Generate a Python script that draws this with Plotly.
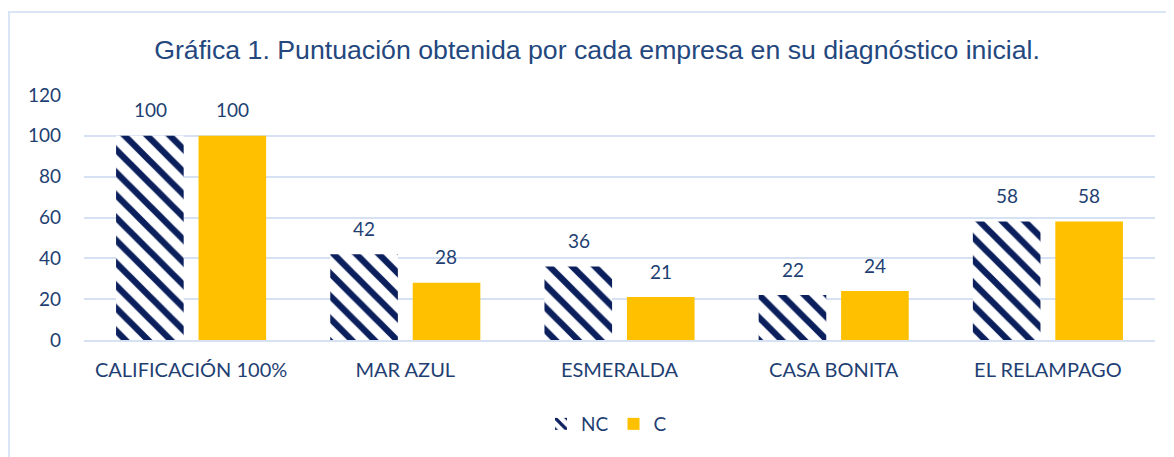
import plotly.graph_objects as go

categories = ["CALIFICACIÓN 100%", "MAR AZUL", "ESMERALDA", "CASA BONITA", "EL RELAMPAGO"]
nc_values = [100, 42, 36, 22, 58]
c_values = [100, 28, 21, 24, 58]
y_ticks = [0, 20, 40, 60, 80, 100, 120]

text_color = "#1F3F73"
title_color = "#24487E"
grid_color = "#D6E2F3"
font_family = "Lato"

fig = go.Figure()
fig.add_trace(go.Bar(
    x=categories, y=nc_values, name="NC",
    marker=dict(color="white",
                pattern=dict(shape="\\", fgcolor="#0B1F5C", bgcolor="white",
                             size=16, solidity=0.4, fillmode="replace", fgopacity=1),
                line=dict(width=0)),
))
fig.add_trace(go.Bar(
    x=categories, y=c_values, name="C",
    marker=dict(color="#FFC000", line=dict(width=0)),
))

annotations = []
for cat, v in zip(categories, nc_values):
    annotations.append(dict(x=cat, y=v, text=str(v), showarrow=False, xshift=-41, yshift=26,
                            yanchor="middle", font=dict(size=19, color=text_color, family=font_family)))
for cat, v in zip(categories, c_values):
    annotations.append(dict(x=cat, y=v, text=str(v), showarrow=False, xshift=41, yshift=26,
                            yanchor="middle", font=dict(size=19, color=text_color, family=font_family)))

W, H = 1166, 449
L, T, B = 76, 87, 117
R = W - L - 1071
plot_h = H - T - B

fig.update_layout(
    width=W, height=H,
    margin=dict(l=L, r=R, t=T, b=B),
    paper_bgcolor="white", plot_bgcolor="white",
    barmode="group", bargap=0.23, bargroupgap=0.18,
    title=dict(text="Gráfica 1. Puntuación obtenida por cada empresa en su diagnóstico inicial.",
               x=(597 - 8) / W, xanchor="center", y=1 - 42 / H, yanchor="middle",
               font=dict(family="Liberation Sans, Arial", size=26.7, color=title_color)),
    font=dict(family=font_family, color=text_color, size=19),
    legend=dict(orientation="h", x=0.5 - 13 / 1071, xanchor="center", y=(plot_h + T - 416) / plot_h,
                yanchor="middle", font=dict(size=19, color=text_color), itemwidth=30,
                traceorder="normal"),
    annotations=annotations,
    shapes=[dict(type="rect", xref="paper", yref="paper",
                 x0=(1 - L) / 1071, x1=1.2, y0=-0.6, y1=(plot_h + T - 4) / plot_h,
                 line=dict(color="#DAE5F5", width=2), fillcolor="rgba(0,0,0,0)", layer="below")],
)
fig.update_yaxes(range=[0, 120], tickvals=y_ticks, showgrid=True, gridcolor=grid_color,
                 gridwidth=2, zeroline=False, showline=False, ticks="",
                 tickfont=dict(size=19, color=text_color, family=font_family), ticklabelstandoff=22)
fig.update_xaxes(showgrid=False, showline=True, linecolor=grid_color, linewidth=2,
                 ticks="", tickfont=dict(size=20, color=text_color, family=font_family),
                 ticklabelstandoff=11)

fig.write_html("out.html")
